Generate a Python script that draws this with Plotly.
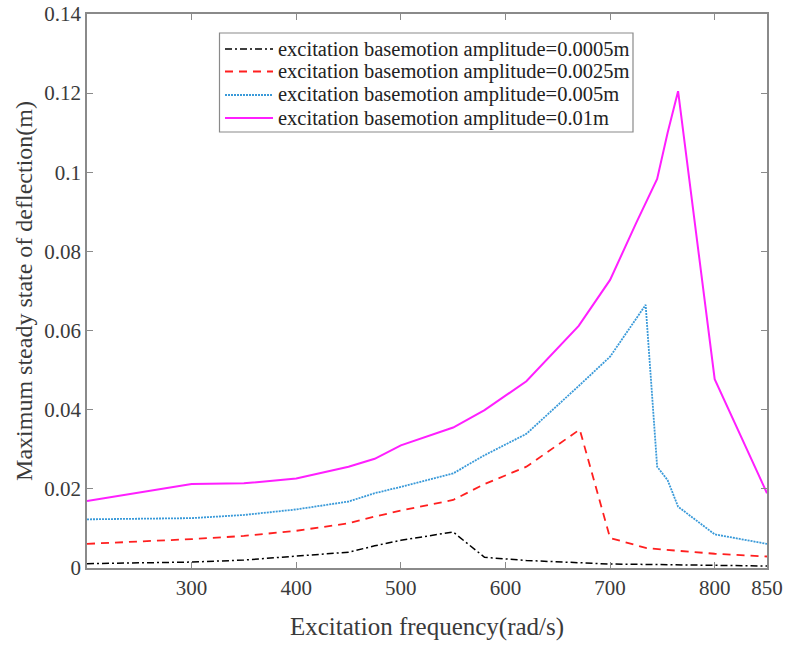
import plotly.graph_objects as go

# Excitation frequency (rad/s) sampling points for each amplitude case
freq_a = [200, 300, 350, 400, 450, 475, 500, 550, 580, 620, 670, 700, 735, 765, 800, 850]
defl_a = [0.0011, 0.0015, 0.0020, 0.0030, 0.0040, 0.0056, 0.0070, 0.0091, 0.0027, 0.0019,
          0.0013, 0.0010, 0.0009, 0.0008, 0.0007, 0.0005]

freq_b = [200, 300, 350, 400, 450, 475, 500, 550, 580, 620, 671, 700, 735, 765, 800, 850]
defl_b = [0.0061, 0.0073, 0.0081, 0.0094, 0.0113, 0.0130, 0.0145, 0.0172, 0.0212, 0.0256,
          0.0350, 0.0076, 0.0050, 0.0043, 0.0036, 0.0029]

freq_c = [200, 300, 350, 400, 450, 475, 500, 550, 580, 620, 670, 700, 734, 745, 755, 765, 800, 850]
defl_c = [0.0123, 0.0126, 0.0134, 0.0148, 0.0168, 0.0189, 0.0205, 0.0239, 0.0285, 0.0339,
          0.0460, 0.0534, 0.0665, 0.0256, 0.0222, 0.0155, 0.0085, 0.0061]

freq_d = [200, 300, 350, 400, 450, 475, 500, 550, 580, 620, 670, 700, 725, 745, 755, 765, 800, 850]
defl_d = [0.0169, 0.0212, 0.0214, 0.0226, 0.0256, 0.0276, 0.0310, 0.0355, 0.0399, 0.0472,
          0.0612, 0.0728, 0.0872, 0.0983, 0.1100, 0.1205, 0.0477, 0.0189]

series_names = [
    "excitation basemotion amplitude=0.0005m",
    "excitation basemotion amplitude=0.0025m",
    "excitation basemotion amplitude=0.005m",
    "excitation basemotion amplitude=0.01m",
]

x_tick_vals = [300, 400, 500, 600, 700, 800, 850]
x_tick_text = ["300", "400", "500", "600", "700", "800", "850"]
y_tick_vals = [0, 0.02, 0.04, 0.06, 0.08, 0.1, 0.12, 0.14]
y_tick_text = ["0", "0.02", "0.04", "0.06", "0.08", "0.1", "0.12", "0.14"]

FONT = "Liberation Serif"
TEXT = "#3a3a3a"
AXIS = "#8a8a8a"

W, H = 785, 648
ML, MR, MT, MB = 87, 18, 14, 80
PW, PH = W - ML - MR, H - MT - MB

styles = [
    dict(color="#000000", width=1.5, dash="7px,3px,2px,3px"),
    dict(color="#ff1f1f", width=1.8, dash="8px,6px"),
    dict(color="#3a9ad9", width=1.8, dash="2px,1px"),
    dict(color="#ff1fff", width=2),
]

fig = go.Figure()
for fx, fy, name, st in zip([freq_a, freq_b, freq_c, freq_d],
                            [defl_a, defl_b, defl_c, defl_d], series_names, styles):
    fig.add_trace(go.Scatter(x=fx, y=fy, mode="lines", name=name, line=st, showlegend=False))

axis_common = dict(
    showline=True, linecolor=AXIS, linewidth=1.5, mirror="ticks",
    ticks="inside", ticklen=6, tickcolor=AXIS, tickwidth=1,
    showgrid=False, zeroline=False, automargin=False,
    tickfont=dict(family=FONT, size=21, color=TEXT),
)

fig.update_xaxes(
    range=[200, 850], tickmode="array", tickvals=x_tick_vals, ticktext=x_tick_text,
    title=dict(text="Excitation frequency(rad/s)", font=dict(family=FONT, size=25, color=TEXT),
               standoff=19),
    **axis_common,
)
fig.update_yaxes(
    range=[0, 0.14], tickmode="array", tickvals=y_tick_vals, ticktext=y_tick_text,
    title=dict(text="Maximum steady state of deflection(m)",
               font=dict(family=FONT, size=24, color=TEXT), standoff=5),
    **axis_common,
)


# Legend box drawn in paper space (pixel positions converted to paper fractions)
def px(xp):
    return (xp - ML) / PW


def py(yp):
    return (H - MB - yp) / PH


box_l, box_r, box_t, box_b = 219.5, 633, 33, 132
fig.add_shape(type="rect", xref="paper", yref="paper",
              x0=px(box_l), x1=px(box_r), y0=py(box_b), y1=py(box_t),
              line=dict(color=AXIS, width=1.2), fillcolor="white", layer="above")
row_y = [49, 71.5, 95, 118]
for yy, name, st in zip(row_y, series_names, styles):
    fig.add_shape(type="line", xref="paper", yref="paper",
                  x0=px(225), x1=px(273), y0=py(yy), y1=py(yy),
                  line=st, layer="above")
    fig.add_annotation(xref="paper", yref="paper", x=px(276), y=py(yy),
                       xanchor="left", yanchor="middle", showarrow=False,
                       text=name, font=dict(family=FONT, size=20.5, color="#222222"))

fig.update_layout(
    width=W, height=H,
    margin=dict(l=ML, r=MR, t=MT, b=MB),
    paper_bgcolor="white", plot_bgcolor="white",
    font=dict(family=FONT, color=TEXT),
    showlegend=False,
)

fig.write_html("out.html")
